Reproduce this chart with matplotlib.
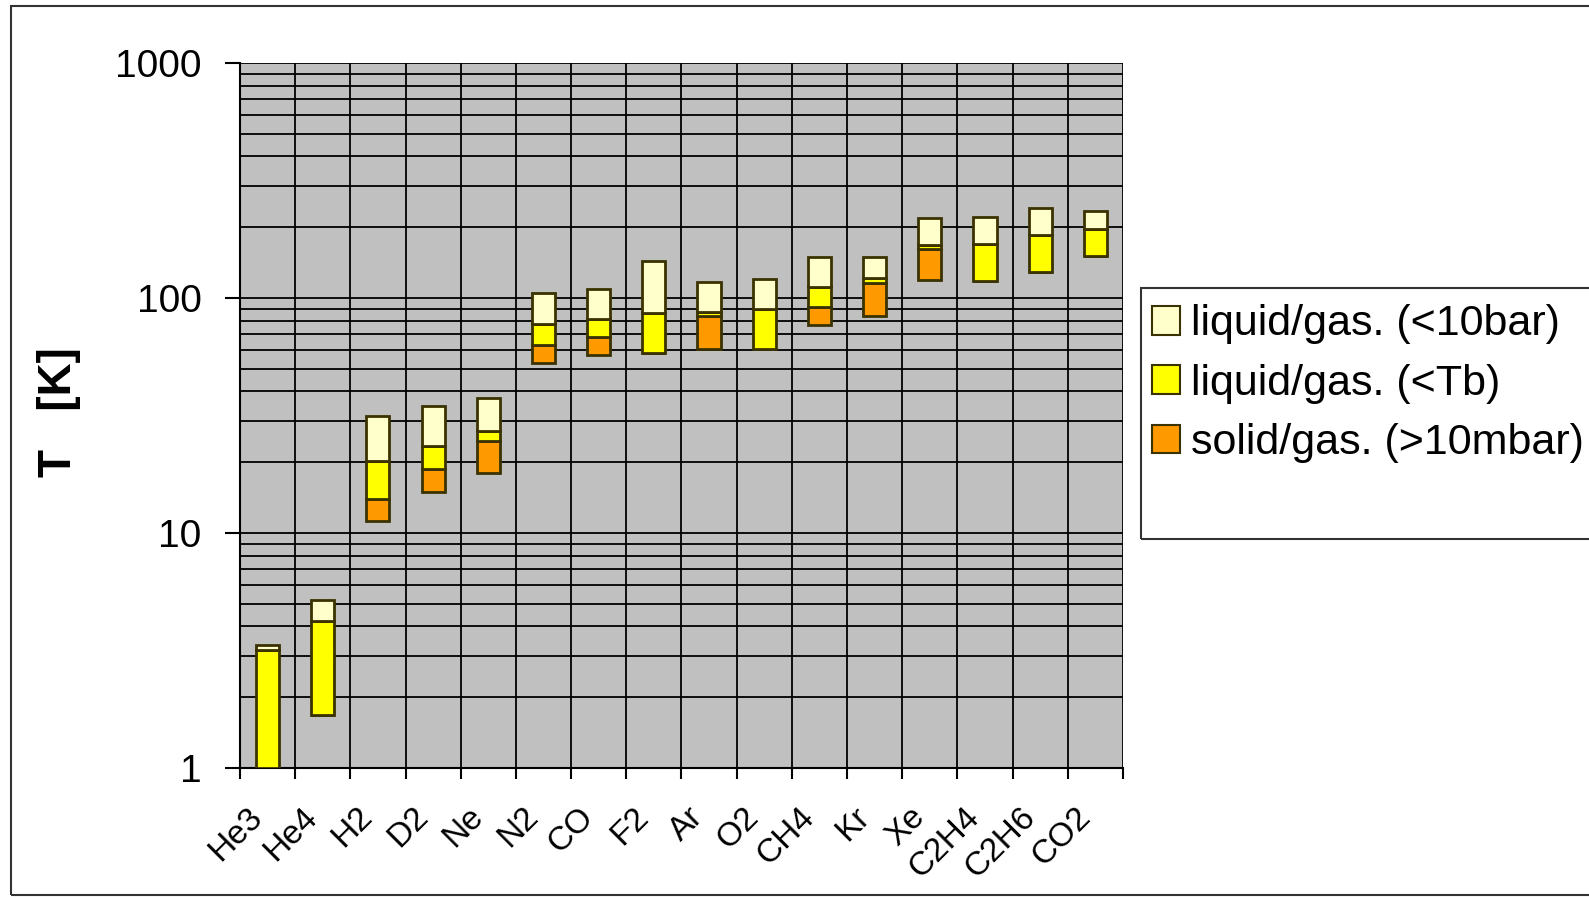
import numpy as np
import matplotlib.pyplot as plt
import matplotlib.transforms as mtransforms
from matplotlib.patches import Rectangle, Patch

plt.rcParams["font.family"] = ["Liberation Sans", "DejaVu Sans"]

gases = ["He3", "He4", "H2", "D2", "Ne", "N2", "CO", "F2", "Ar", "O2",
         "CH4", "Kr", "Xe", "C2H4", "C2H6", "CO2"]

# lowest temperature of each bar [K]
t_low = [1.0, 1.68, 11.2, 14.9, 18.0, 52.6, 56.9, 58.4, 60.8, 60.6,
         76.6, 83.9, 119.0, 118.0, 129.0, 151.0]
# top of solid/gas range (same as t_low where there is none)
t_solid = [1.0, 1.68, 13.9, 18.7, 24.6, 62.8, 67.9, 58.4, 83.7, 60.6,
           91.1, 116.0, 161.0, 118.0, 129.0, 151.0]
# top of liquid/gas below boiling point
t_boil = [3.19, 4.23, 20.2, 23.4, 27.2, 77.1, 81.5, 85.9, 87.3, 89.4,
          110.8, 121.0, 168.0, 169.0, 186.0, 196.0]
# top of liquid/gas up to 10 bar
t_10bar = [3.32, 5.18, 31.4, 34.6, 37.6, 104.5, 108.7, 143.5, 116.4, 120.2,
           149.6, 149.0, 218.0, 221.0, 242.0, 234.0]

labels = ["liquid/gas. (<10bar)", "liquid/gas. (<Tb)", "solid/gas. (>10mbar)"]
colors = ["#FFFFCC", "#FFFF00", "#FF9900"]
edge = "#3A3200"

fig = plt.figure(figsize=(15.89, 8.98), dpi=100)
ax = fig.add_axes([0.151, 0.1448, 0.5557, 0.7852])
ax.set_facecolor("#C0C0C0")

x = np.arange(len(gases))
low = np.array(t_low)
sol = np.array(t_solid)
boil = np.array(t_boil)
top = np.array(t_10bar)
w = 0.42

ax.bar(x, sol - low, bottom=low, width=w, color=colors[2], edgecolor=edge,
       linewidth=2, zorder=3)
ax.bar(x, boil - sol, bottom=sol, width=w, color=colors[1], edgecolor=edge,
       linewidth=2, zorder=3)
ax.bar(x, top - boil, bottom=boil, width=w, color=colors[0], edgecolor=edge,
       linewidth=2, zorder=3)

ax.set_yscale("log")
ax.set_ylim(1, 1000)
ax.set_xlim(-0.5, len(gases) - 0.5)

ax.set_yticks([1, 10, 100, 1000])
ax.set_yticklabels(["1", "10", "100", "1000"], fontsize=28)
ax.yaxis.set_minor_formatter(plt.NullFormatter())
ax.tick_params(axis="y", which="major", length=11, width=1.5, pad=16.5)
ax.tick_params(axis="y", which="minor", length=0)

ax.set_xticks(np.arange(len(gases) + 1) - 0.5)
ax.set_xticklabels([])
ax.set_xticks(x, minor=True)
ax.set_xticklabels(gases, minor=True, rotation=45, ha="right",
                   rotation_mode="anchor", fontsize=24)
ax.tick_params(axis="x", which="major", length=8, width=1.5, direction="out")
ax.tick_params(axis="x", which="minor", length=0, pad=24)
shift = mtransforms.ScaledTranslation(-21 / 100, 0, fig.dpi_scale_trans)
for lab in ax.get_xticklabels(minor=True):
    lab.set_transform(lab.get_transform() + shift)

ax.grid(True, which="both", axis="y", color="black", linewidth=1.3, zorder=1)
ax.grid(True, which="major", axis="x", color="black", linewidth=1.3, zorder=1)
ax.set_axisbelow(True)
for s in ["top", "right"]:
    ax.spines[s].set_visible(False)
ax.spines["left"].set_linewidth(1.5)
ax.spines["bottom"].set_linewidth(1.5)

ax.set_ylabel("T   [K]", fontsize=33, fontweight="bold")
ax.yaxis.set_label_coords(-0.180, 0.505)

# outer border of the picture
fig.patches.append(Rectangle((0.007, 0.003), 1.1, 0.99, transform=fig.transFigure,
                             fill=False, edgecolor="#333333", linewidth=1.5))

# legend frame and entries
fig.patches.append(Rectangle((1141 / 1589, 1 - 539 / 898), 0.5, 251 / 898,
                             transform=fig.transFigure, fill=False,
                             edgecolor="#333333", linewidth=1.5))
handles = [Patch(facecolor=c, edgecolor=edge, linewidth=1.5) for c in colors]
fig.legend(handles, labels, loc="upper left",
           bbox_to_anchor=(1148 / 1589, 1 - 300 / 898), frameon=False,
           fontsize=31, handlelength=0.65, handleheight=0.65,
           handletextpad=0.25, labelspacing=0.45, borderpad=0.1,
           borderaxespad=0)

fig.savefig("out.png", dpi=100)
